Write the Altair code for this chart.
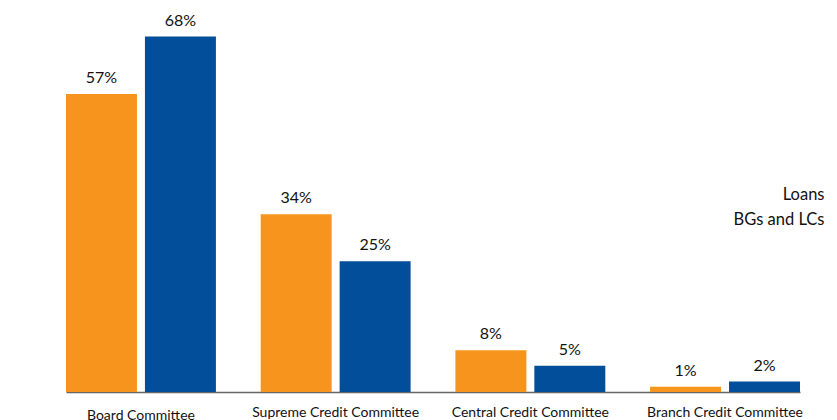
import altair as alt
import pandas as pd

committees = ["Board Committee", "Supreme Credit Committee", "Central Credit Committee", "Branch Credit Committee"]
series = ["Loans", "BGs and LCs"]
loans = [57, 34, 8, 1]
bgs_lcs = [68, 25, 5, 2]
colors = ["#F7941E", "#034E9A"]

rows = []
for c, a, b in zip(committees, loans, bgs_lcs):
    rows.append({"committee": c, "series": "Loans", "value": a, "label": f"{a}%"})
    rows.append({"committee": c, "series": "BGs and LCs", "value": b, "label": f"{b}%"})
df = pd.DataFrame(rows)

FONT = "Lato"

x = alt.X(
    "committee:N",
    sort=committees,
    scale=alt.Scale(range=[58, 792], paddingInner=0.23, paddingOuter=0),
    axis=alt.Axis(
        title=None, ticks=False, labelAngle=0, labelFont=FONT, labelFontSize=14,
        labelColor="#111", labelBaseline="top",
        labelPadding={"condition": {"test": "datum.value == 'Board Committee'", "value": 16}, "value": 13},
        domainColor="#666", domainWidth=1.3,
    ),
)
xo = alt.XOffset("series:N", sort=series, scale=alt.Scale(paddingInner=0.101, paddingOuter=0))
y = alt.Y("value:Q", scale=alt.Scale(domain=[0, 75], nice=False, zero=True), axis=None)

bars = alt.Chart(df).mark_bar().encode(
    x=x, xOffset=xo, y=y,
    color=alt.Color(
        "series:N", sort=series,
        scale=alt.Scale(domain=series, range=colors),
        legend=alt.Legend(
            orient="none", legendX=800, legendY=187, title=None,
            symbolSize=0, symbolOpacity=0, symbolStrokeWidth=0,
            labelAlign="right", labelOffset=0, padding=0,
            labelFont=FONT, labelFontSize=16.5, labelColor="#111", rowPadding=8,
        ),
    ),
)

text = alt.Chart(df).mark_text(font=FONT, fontSize=16, dy=-11, baseline="alphabetic", color="#111").encode(
    x=x, xOffset=xo, y=y, text="label:N"
)

chart = (bars + text).properties(
    width=829, height=392, background="white",
    padding={"left": 8, "top": 0, "right": 0, "bottom": 28},
    autosize=alt.AutoSizeParams(type="none"),
).configure_view(stroke=None)

chart.save("out.html", embed_options={"renderer": "svg", "actions": False})
